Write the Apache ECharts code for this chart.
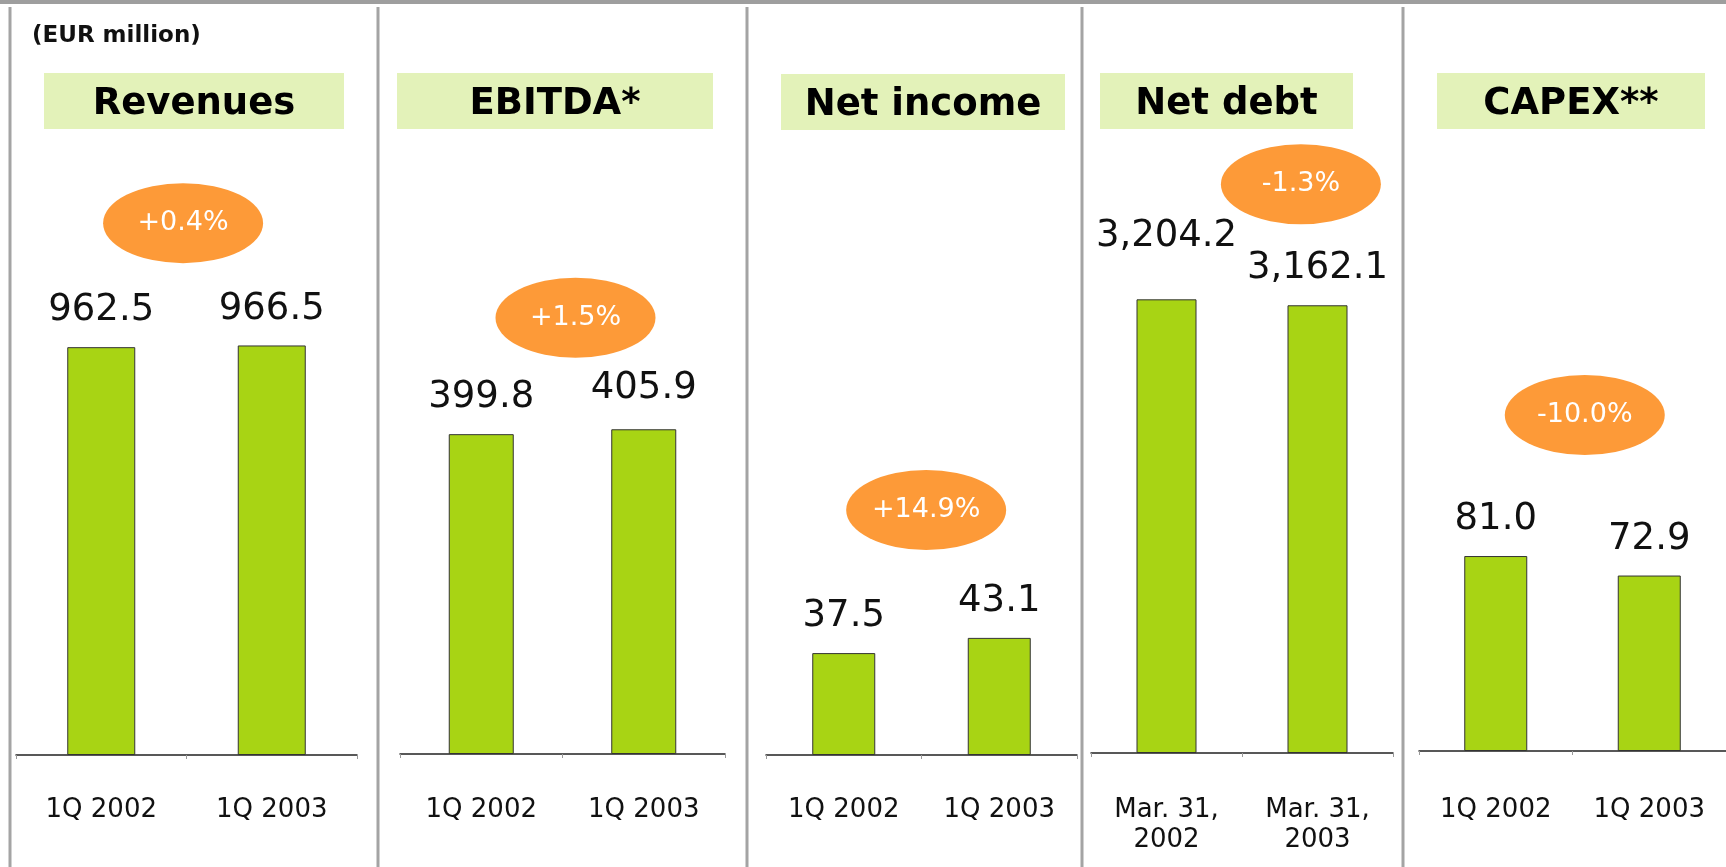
<!DOCTYPE html>
<html><head><meta charset="utf-8">
<script src="https://cdn.jsdelivr.net/npm/echarts@6/dist/echarts.min.js"></script>
<style>html,body{margin:0;padding:0;background:#fff}#c{width:1726px;height:867px}</style>
</head><body><div id="c"></div>
<script>
// ---------- data ----------
const unitLabel = '(EUR million)';
const panelTitles = ['Revenues', 'EBITDA*', 'Net income', 'Net debt', 'CAPEX**'];
const quarterCats = ['1Q 2002', '1Q 2003'];
const dateCats = ['Mar. 31,\n2002', 'Mar. 31,\n2003'];
const revenues = [962.5, 966.5];
const ebitda = [399.8, 405.9];
const netIncome = [37.5, 43.1];
const netDebt = [3204.2, 3162.1];
const capex = [81.0, 72.9];
const changeLabels = ['+0.4%', '+1.5%', '+14.9%', '-1.3%', '-10.0%'];

const panelData = [revenues, ebitda, netIncome, netDebt, capex];
const panelCats = [quarterCats, quarterCats, quarterCats, dateCats, quarterCats];

// ---------- layout / style ----------
const GRID_TOP = 130;
const LABEL_CENTER_Y = 810;
const layout = [
  {left: 16,   width: 341, baseline: 755, max: 1475, barWidth: 68, box: [44, 73, 300, 56],   bubble: [0.48, 0.851], divider: 10,   offsets: [[0,0],[0,0]]},
  {left: 400,  width: 325, baseline: 754, max: 780,  barWidth: 65, box: [397, 73, 316, 56],  bubble: [0.58, 0.699], divider: 378,  offsets: [[0,0],[0,-4]]},
  {left: 766,  width: 311, baseline: 755, max: 230,  barWidth: 63, box: [781, 74, 284, 56],  bubble: [0.53, 0.392], divider: 747,  offsets: [[0,0],[0,0]]},
  {left: 1091, width: 302, baseline: 753, max: 4400, barWidth: 60, box: [1100, 73, 253, 56], bubble: [0.89, 0.913], divider: 1082, offsets: [[0,-26],[0,0]]},
  {left: 1419, width: 311, baseline: 751, max: 258,  barWidth: 63, box: [1437, 73, 268, 56], bubble: [0.58, 0.541], divider: 1403, offsets: [[0,0],[0,0]]}
];
const FONT = '"DejaVu Sans", Verdana, sans-serif';
const BAR_COLOR = '#A8D414';
const BUBBLE_COLOR = '#FD9A38';
const BOX_COLOR = '#E3F2B9';
const DIVIDER_COLOR = '#A4A4A4';
const ELLIPSE = 'path://M0,50 A50,50 0 1,1 100,50 A50,50 0 1,1 0,50 Z';

function fmt(v) {
  return v.toLocaleString('en-US', {minimumFractionDigits: 1, maximumFractionDigits: 1});
}

const grids = [], xAxes = [], yAxes = [], series = [], graphics = [];

graphics.push({type: 'rect', shape: {x: 0, y: 0, width: 1726, height: 4}, style: {fill: '#9E9E9E'}, silent: true});
graphics.push({type: 'text', left: 32, top: 25, style: {text: unitLabel, font: 'bold 23px ' + FONT, fill: '#111'}, silent: true});

layout.forEach((L, i) => {
  grids.push({left: L.left, width: L.width, top: GRID_TOP, height: L.baseline - GRID_TOP});
  xAxes.push({
    type: 'category', gridIndex: i, data: panelCats[i],
    axisLine: {lineStyle: {color: '#222', width: 1.5}},
    axisTick: {show: true, length: 4, lineStyle: {color: '#999'}},
    axisLabel: {color: '#111', fontSize: 26, fontFamily: FONT, margin: LABEL_CENTER_Y - L.baseline - 15,
                lineHeight: 30, interval: 0}
  });
  xAxes.push({type: 'value', gridIndex: i, min: -0.5, max: 1.5, show: false});
  yAxes.push({type: 'value', gridIndex: i, min: 0, max: L.max, show: false, splitLine: {show: false}});

  series.push({
    type: 'bar', xAxisIndex: 2 * i, yAxisIndex: i, barWidth: L.barWidth,
    itemStyle: {color: BAR_COLOR, borderColor: '#333', borderWidth: 1},
    label: {show: true, position: 'top', distance: 18, color: '#111', fontSize: 37, fontFamily: FONT,
            formatter: p => fmt(p.value)},
    data: panelData[i].map((v, j) => ({value: v, label: {offset: L.offsets[j]}})),
    silent: true
  });
  series.push({
    type: 'scatter', xAxisIndex: 2 * i + 1, yAxisIndex: i,
    symbol: ELLIPSE, symbolSize: [160, 80], symbolKeepAspect: false,
    itemStyle: {color: BUBBLE_COLOR, opacity: 1},
    label: {show: true, position: 'inside', color: '#fff', fontSize: 27, fontFamily: FONT,
            formatter: p => p.name},
    data: [{name: changeLabels[i], value: [L.bubble[0], L.bubble[1] * L.max]}],
    silent: true, z: 3
  });

  graphics.push({type: 'rect', shape: {x: L.divider - 1.5, y: 7, width: 3, height: 867 - 7}, style: {fill: DIVIDER_COLOR}, silent: true});
  const [bx, by, bw, bh] = L.box;
  graphics.push({type: 'rect', shape: {x: bx, y: by, width: bw, height: bh}, style: {fill: BOX_COLOR}, silent: true});
  graphics.push({type: 'text', x: bx + bw / 2, y: by + bh / 2 + 3,
    style: {text: panelTitles[i], font: 'bold 37px ' + FONT, fill: '#000', align: 'center', verticalAlign: 'middle'}, silent: true});
});

const chart = echarts.init(document.getElementById('c'), null, {renderer: 'canvas'});
chart.setOption({
  animation: false,
  backgroundColor: '#fff',
  grid: grids, xAxis: xAxes, yAxis: yAxes, series: series,
  graphic: graphics
});
</script></body></html>
